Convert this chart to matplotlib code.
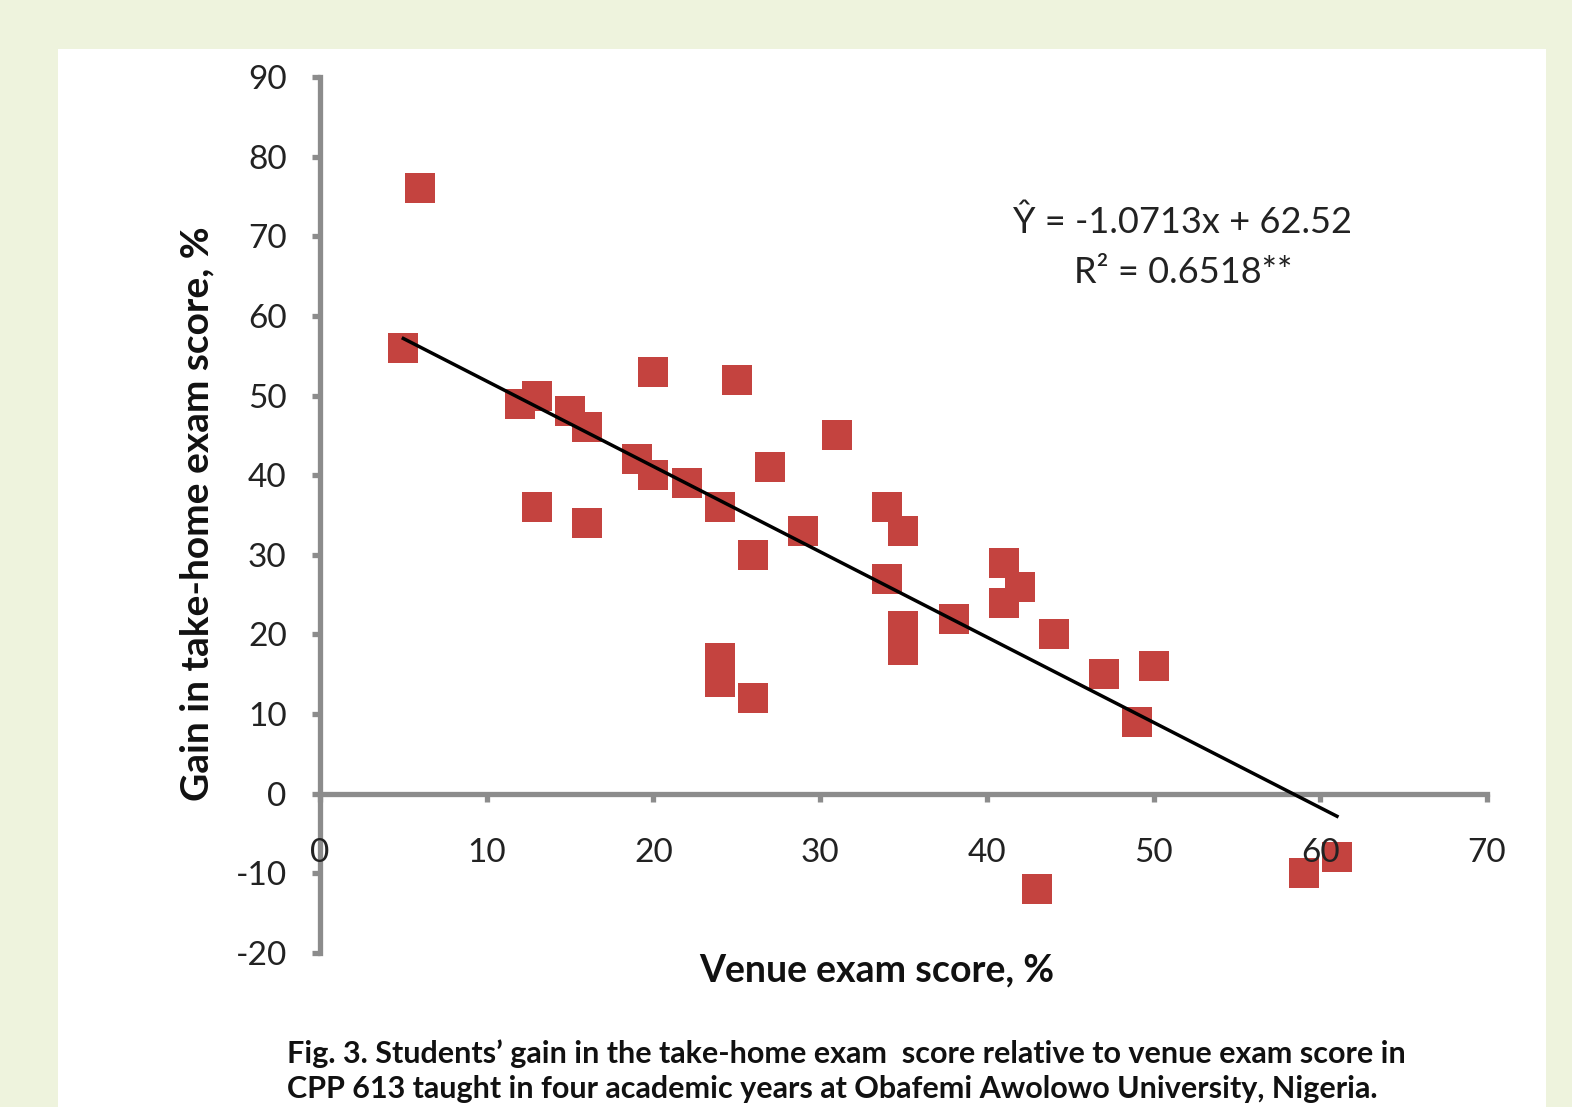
import numpy as np
import matplotlib
matplotlib.use('Agg')
import matplotlib.pyplot as plt
from matplotlib.patches import Rectangle

plt.rcParams['font.family'] = ['Lato', 'DejaVu Sans']
plt.rcParams['axes.unicode_minus'] = False

# 자료
venue = [6, 5, 12, 13, 15, 16, 13, 16, 20, 19, 20, 22, 24, 25, 27, 26, 24, 24, 26,
         31, 29, 34, 35, 34, 35, 35, 38, 41, 41, 42, 44, 47, 50, 49, 43, 59, 61]
gain = [76, 56, 49, 50, 48, 46, 36, 34, 53, 42, 40, 39, 36, 52, 41, 30, 17, 14, 12,
        45, 33, 36, 33, 27, 21, 18, 22, 29, 24, 26, 20, 15, 16, 9, -12, -10, -8]
slope, intercept = -1.0713, 62.52
x_ticks = [0, 10, 20, 30, 40, 50, 60, 70]
y_ticks = [-20, -10, 0, 10, 20, 30, 40, 50, 60, 70, 80, 90]

W, H = 1572, 1107
fig = plt.figure(figsize=(W / 100, H / 100), dpi=100)
fig.patch.set_facecolor('#eef3dd')

# 흰 패널
fig.patches.append(Rectangle((58 / W, 0), (1546 - 58) / W, 1 - 49 / H,
                             transform=fig.transFigure, facecolor='white',
                             edgecolor='none', zorder=-10))

ax = fig.add_axes([320 / W, 1 - 953 / H, (1487 - 320) / W, (953 - 77) / H])
ax.set_facecolor('none')

# 점은 눈금 글자(zorder 1.5) 아래에 그려서 "60" 글자가 점 위에 보이게
ax.scatter(venue, gain, marker='s', s=22 ** 2, color='#c4433f', linewidths=0,
           zorder=1.2, clip_on=False)

xs = np.array([min(venue), max(venue)])
ax.plot(xs, slope * xs + intercept, color='black', lw=2.5, zorder=4)

ax.set_xlim(0, 70)
ax.set_ylim(-20, 90)
ax.set_xticks(x_ticks)
ax.set_yticks(y_ticks)

grey = '#8c8c8c'
for s in ['top', 'right']:
    ax.spines[s].set_visible(False)
ax.spines['bottom'].set_position(('data', 0))
for s in ['left', 'bottom']:
    ax.spines[s].set_color(grey)
    ax.spines[s].set_linewidth(3.8)
    ax.spines[s].set_zorder(1)
ax.tick_params(axis='both', colors=grey, width=3.8, length=6, direction='out',
               labelcolor='#222222', labelsize=24)
ax.tick_params(axis='x', pad=26)
ax.tick_params(axis='y', pad=18)

# 회귀식
ax.text(0.7395, 0.834, 'Ŷ = -1.0713x + 62.52', transform=ax.transAxes,
        ha='center', va='center', fontsize=26, color='#222222')
ax.text(0.7395, 0.777, 'R² = 0.6518**', transform=ax.transAxes,
        ha='center', va='center', fontsize=26, color='#222222')

fig.text(877 / W, 1 - 970 / H, 'Venue exam score, %', ha='center', va='center',
         fontsize=27, fontweight='bold', color='#111111')
fig.text(197 / W, 1 - 514 / H, 'Gain in take-home exam score, %', ha='center',
         va='center', rotation=90, fontsize=28, fontweight='bold', color='#111111')

fig.text(287 / W, 1 - 1054 / H,
         'Fig. 3. Students\u2019 gain in the take-home exam  score relative to venue exam score in',
         ha='left', va='center', fontsize=22, fontweight='bold', color='#111111')
fig.text(287 / W, 1 - 1089 / H,
         'CPP 613 taught in four academic years at Obafemi Awolowo University, Nigeria.',
         ha='left', va='center', fontsize=22, fontweight='bold', color='#111111')

fig.savefig('out.png', dpi=100, facecolor=fig.get_facecolor())
